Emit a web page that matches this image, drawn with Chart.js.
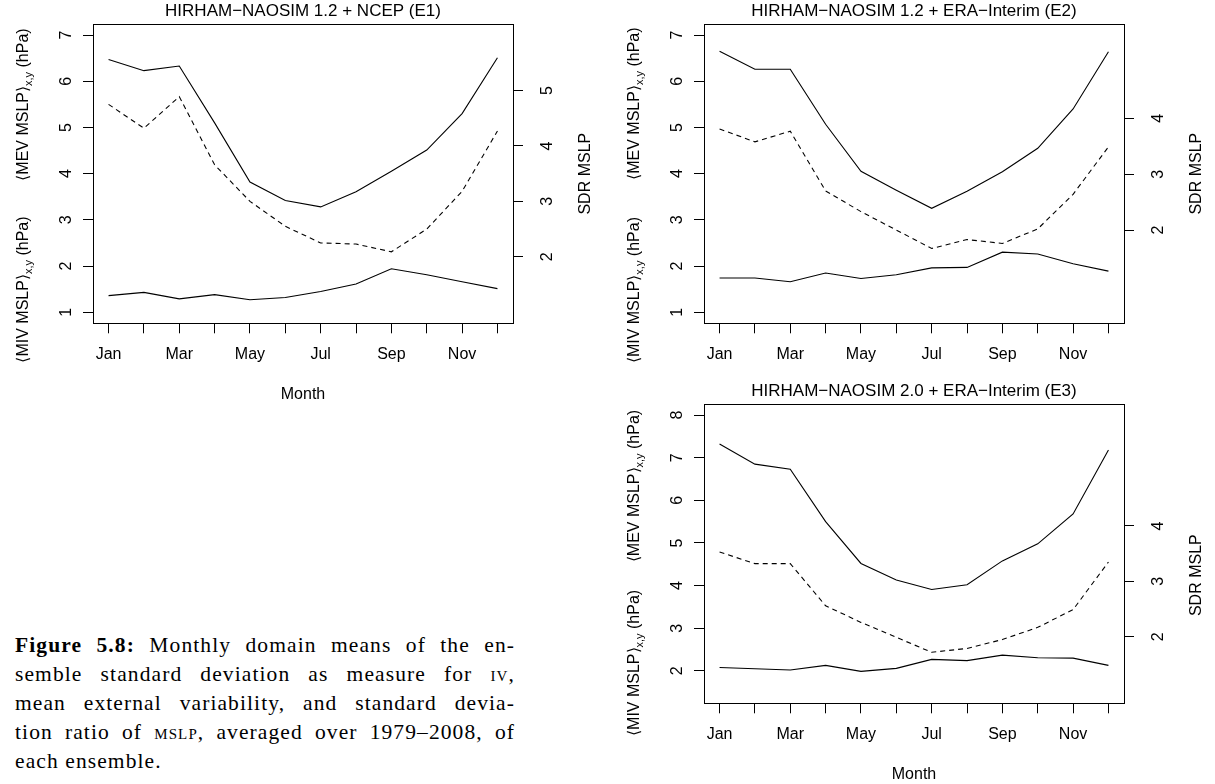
<!DOCTYPE html>
<html>
<head>
<meta charset="utf-8">
<script src="https://cdn.jsdelivr.net/npm/chart.js@4.4.1/dist/chart.umd.min.js"></script>
<style>
  body { margin: 0; background: #fff; }
  #page { position: relative; width: 1215px; height: 784px; overflow: hidden; }
  canvas { position: absolute; }
  #caption {
    position: absolute; left: 15px; top: 631px; width: 500px;
    font-family: "Liberation Serif", "Times New Roman", serif;
    font-size: 21.5px; line-height: 29px; color: #000; letter-spacing: 1.1px;
  }
  #caption .jl { text-align: justify; text-align-last: justify; }
  #caption .sc { font-variant: small-caps; }
</style>
</head>
<body>
<div id="page">
  <canvas id="e1" width="604" height="404" style="left:0;top:0"></canvas>
  <canvas id="e2" width="604" height="380" style="left:611px;top:0"></canvas>
  <canvas id="e3" width="604" height="404" style="left:611px;top:380px"></canvas>
  <div id="caption">
    <div class="jl"><b>Figure 5.8:</b> Monthly domain means of the en-</div>
    <div class="jl">semble standard deviation as measure for <span class="sc">iv</span>,</div>
    <div class="jl">mean external variability, and standard devia-</div>
    <div class="jl">tion ratio of <span class="sc">mslp</span>, averaged over 1979–2008, of</div>
    <div>each ensemble.</div>
  </div>
</div>
<script>
// 月份
const monthNumbers = [1, 2, 3, 4, 5, 6, 7, 8, 9, 10, 11, 12];
const monthNames = ['Jan', 'Feb', 'Mar', 'Apr', 'May', 'Jun', 'Jul', 'Aug', 'Sep', 'Oct', 'Nov', 'Dec'];

// E1: HIRHAM-NAOSIM 1.2 + NCEP
const e1Mev = [6.47, 6.23, 6.33, 5.10, 3.82, 3.42, 3.28, 3.61, 4.05, 4.51, 5.30, 6.51];
const e1Miv = [1.36, 1.43, 1.29, 1.38, 1.27, 1.32, 1.45, 1.61, 1.94, 1.81, 1.66, 1.51];
const e1Sdr = [4.75, 4.32, 4.89, 3.66, 3.00, 2.55, 2.25, 2.23, 2.09, 2.50, 3.18, 4.27];
const e1LeftTicks = [1, 2, 3, 4, 5, 6, 7];
const e1RightTicks = [2, 3, 4, 5];

// E2: HIRHAM-NAOSIM 1.2 + ERA-Interim
const e2Mev = [6.65, 6.26, 6.26, 5.07, 4.05, 3.64, 3.25, 3.62, 4.04, 4.55, 5.40, 6.64];
const e2Miv = [1.74, 1.74, 1.66, 1.85, 1.73, 1.81, 1.96, 1.97, 2.30, 2.26, 2.05, 1.89];
const e2Sdr = [3.81, 3.58, 3.77, 2.70, 2.33, 2.00, 1.67, 1.83, 1.76, 2.02, 2.64, 3.49];
const e2LeftTicks = [1, 2, 3, 4, 5, 6, 7];
const e2RightTicks = [2, 3, 4];

// E3: HIRHAM-NAOSIM 2.0 + ERA-Interim
const e3Mev = [7.32, 6.85, 6.73, 5.50, 4.52, 4.13, 3.91, 4.02, 4.58, 4.98, 5.68, 7.18];
const e3Miv = [2.08, 2.05, 2.02, 2.13, 1.99, 2.06, 2.27, 2.24, 2.37, 2.31, 2.30, 2.13];
const e3Sdr = [3.53, 3.32, 3.32, 2.56, 2.26, 1.99, 1.72, 1.79, 1.95, 2.17, 2.49, 3.35];
const e3LeftTicks = [2, 3, 4, 5, 6, 7, 8];
const e3RightTicks = [2, 3, 4];

const FONT = '"Liberation Sans", Arial, Helvetica, sans-serif';
Chart.defaults.font.family = FONT;
Chart.defaults.color = '#000';

// 旋转文字 (R 风格的纵向刻度和轴标题)
function rotText(ctx, cx, cy, parts) {
    let total = 0;
    parts.forEach(p => {
        ctx.font = p.size + 'px ' + FONT;
        p.w = ctx.measureText(p.text).width;
        total += p.w;
    });
    ctx.save();
    ctx.translate(cx, cy);
    ctx.rotate(-Math.PI / 2);
    ctx.textAlign = 'left';
    ctx.textBaseline = 'alphabetic';
    let x = -total / 2;
    parts.forEach(p => {
        ctx.font = p.size + 'px ' + FONT;
        ctx.fillText(p.text, x, 5.7 + (p.dy || 0));
        x += p.w;
    });
    ctx.restore();
}

const rStyle = {
    id: 'rStyle',
    afterDraw(chart, args, opts) {
        const ctx = chart.ctx;
        const a = chart.chartArea;
        const h = a.bottom - a.top;
        ctx.save();
        ctx.strokeStyle = '#000';
        ctx.lineWidth = 1;
        ctx.strokeRect(Math.round(a.left) + 0.5, Math.round(a.top) + 0.5,
            Math.round(a.right - a.left), Math.round(h));
        ctx.fillStyle = '#000';
        const ys = chart.scales.y, ys1 = chart.scales.y1;
        ys.ticks.forEach(t => {
            rotText(ctx, a.left - 28, ys.getPixelForValue(t.value), [{ text: String(t.value), size: 16 }]);
        });
        ys1.ticks.forEach(t => {
            rotText(ctx, a.right + 33, ys1.getPixelForValue(t.value), [{ text: String(t.value), size: 16 }]);
        });
        rotText(ctx, a.left - 71, a.top + opts.mevPos * h, [
            { text: '\u27E8MEV MSLP\u27E9', size: 16 },
            { text: 'x,y', size: 11, dy: 4 },
            { text: ' (hPa)', size: 16 }
        ]);
        rotText(ctx, a.left - 71, a.top + opts.mivPos * h, [
            { text: '\u27E8MIV MSLP\u27E9', size: 16 },
            { text: 'x,y', size: 11, dy: 4 },
            { text: ' (hPa)', size: 16 }
        ]);
        rotText(ctx, a.right + 71, a.top + opts.sdrPos * h, [{ text: 'SDR MSLP', size: 16 }]);
        ctx.restore();
    }
};

function makePanel(id, title, mev, miv, sdr, leftTicks, rightTicks, leftMin, leftMax, rightMin, rightMax, showMonth, pos) {
    const ctx = document.getElementById(id).getContext('2d');
    return new Chart(ctx, {
        type: 'line',
        data: {
            labels: monthNumbers,
            datasets: [
                { label: 'MEV', data: mev, yAxisID: 'y', borderColor: '#000', borderWidth: 1.1, pointRadius: 0, tension: 0 },
                { label: 'MIV', data: miv, yAxisID: 'y', borderColor: '#000', borderWidth: 1.1, pointRadius: 0, tension: 0 },
                { label: 'SDR', data: sdr, yAxisID: 'y1', borderColor: '#000', borderWidth: 1.1, borderDash: [5, 4], pointRadius: 0, tension: 0 }
            ]
        },
        options: {
            responsive: false,
            animation: false,
            events: [],
            layout: { padding: 0 },
            plugins: {
                legend: { display: false },
                tooltip: { enabled: false },
                title: {
                    display: true,
                    text: title,
                    fullSize: false,
                    color: '#000',
                    font: { size: 17, weight: 'normal' },
                    padding: { top: 1.6, bottom: 2 }
                },
                rStyle: pos
            },
            scales: {
                x: {
                    type: 'linear',
                    min: 0.56,
                    max: 12.44,
                    afterBuildTicks: s => { s.ticks = monthNumbers.map(v => ({ value: v })); },
                    afterFit: s => { s.height = s.chart.height - 323.3; },
                    grid: { display: true, drawOnChartArea: false, drawTicks: true, tickLength: 10, color: '#000', lineWidth: 1 },
                    border: { display: false },
                    ticks: {
                        autoSkip: false,
                        maxRotation: 0,
                        padding: 12,
                        font: { size: 16 },
                        color: '#000',
                        callback: v => (v % 2 === 1 ? monthNames[v - 1] : '')
                    },
                    title: { display: showMonth, text: 'Month', color: '#000', font: { size: 16 }, padding: { top: 0, bottom: 0 } }
                },
                y: {
                    position: 'left',
                    min: leftMin,
                    max: leftMax,
                    afterBuildTicks: s => { s.ticks = leftTicks.map(v => ({ value: v })); },
                    afterFit: s => { s.width = 93; },
                    grid: { display: true, drawOnChartArea: false, drawTicks: true, tickLength: 10, color: '#000', lineWidth: 1 },
                    border: { display: false },
                    ticks: { display: false }
                },
                y1: {
                    position: 'right',
                    min: rightMin,
                    max: rightMax,
                    afterBuildTicks: s => { s.ticks = rightTicks.map(v => ({ value: v })); },
                    afterFit: s => { s.width = 91; },
                    grid: { display: true, drawOnChartArea: false, drawTicks: true, tickLength: 10, color: '#000', lineWidth: 1 },
                    border: { display: false },
                    ticks: { display: false }
                }
            }
        },
        plugins: [rStyle]
    });
}

document.addEventListener('DOMContentLoaded', function() {
    makePanel('e1', 'HIRHAM\u2212NAOSIM 1.2 + NCEP (E1)', e1Mev, e1Miv, e1Sdr,
        e1LeftTicks, e1RightTicks, 0.76, 7.24, 0.8, 6.2, true,
        { mevPos: 0.269, mivPos: 0.887, sdrPos: 0.5 });
    makePanel('e2', 'HIRHAM\u2212NAOSIM 1.2 + ERA\u2212Interim (E2)', e2Mev, e2Miv, e2Sdr,
        e2LeftTicks, e2RightTicks, 0.76, 7.24, 0.33, 5.69, false,
        { mevPos: 0.266, mivPos: 0.889, sdrPos: 0.5 });
    makePanel('e3', 'HIRHAM\u2212NAOSIM 2.0 + ERA\u2212Interim (E3)', e3Mev, e3Miv, e3Sdr,
        e3LeftTicks, e3RightTicks, 1.24, 8.26, 0.8, 6.2, true,
        { mevPos: 0.274, mivPos: 0.865, sdrPos: 0.572 });
});
</script>
</body>
</html>
